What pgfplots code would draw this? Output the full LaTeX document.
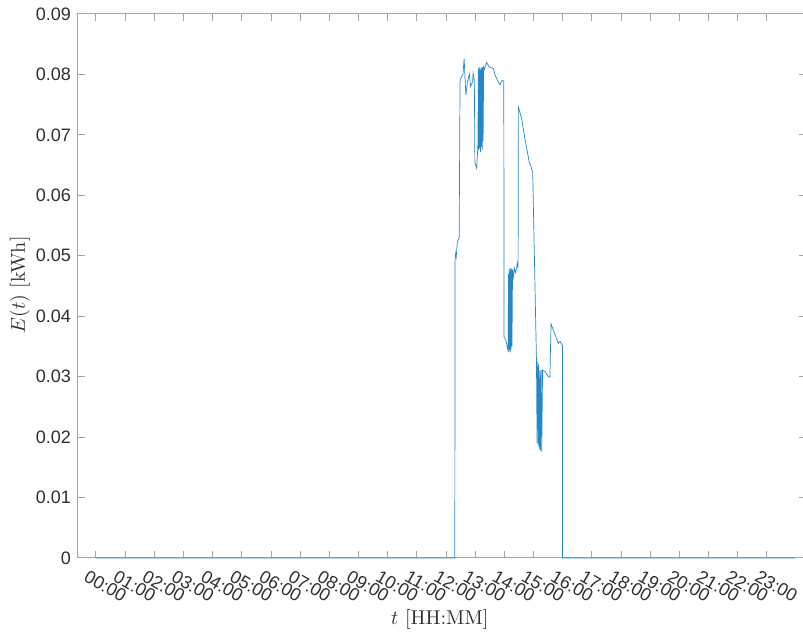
\documentclass[border=0pt]{standalone}
\usepackage{pgfplots}
\pgfplotsset{compat=1.18}
\usepackage{fontspec}
\newfontfamily\helv{Liberation Sans}
\definecolor{mblue}{rgb}{0,0.447,0.741}
\definecolor{axgray}{rgb}{0.64,0.64,0.64}
\definecolor{txtgray}{rgb}{0.18,0.18,0.18}
\begin{document}
\begin{tikzpicture}
\begin{axis}[
  scale only axis,
  width=364pt, height=272pt,
  xmin=-0.617, xmax=24.34,
  ymin=0, ymax=0.09,
  xtick={0,1,...,23},
  xticklabels={00:00,01:00,02:00,03:00,04:00,05:00,06:00,07:00,08:00,09:00,10:00,11:00,12:00,13:00,14:00,15:00,16:00,17:00,18:00,19:00,20:00,21:00,22:00,23:00},
  ytick={0,0.01,0.02,0.03,0.04,0.05,0.06,0.07,0.08,0.09},
  yticklabels={0,0.01,0.02,0.03,0.04,0.05,0.06,0.07,0.08,0.09},
  scaled y ticks=false,
  tick align=inside,
  major tick length=3.5pt,
  axis line style={axgray, line width=0.5pt},
  tick style={axgray, line width=0.5pt},
  tick label style={font=\helv\fontsize{9}{10.8}\selectfont, text=txtgray},
  xticklabel style={xshift=-3.5pt, yshift=-5.5pt, rotate=-30, anchor=north west, inner sep=0pt},
  xlabel={$t$ [HH:MM]},
  ylabel={$E(t)$ [kWh]},
  label style={font=\fontsize{10}{12}\selectfont, text=txtgray},
  xlabel style={at={(axis description cs:0.497,-0.114)}, anchor=center},
  ylabel style={at={(axis description cs:-0.0797,0.502)}, anchor=center},
  clip=false,
]
\addplot[mblue!85, line width=0.35pt] coordinates {
(0,0) (12.30,0) (12.31,0.0493) (12.33,0.0504) (12.35,0.0498) (12.37,0.0512) (12.39,0.0523) (12.42,0.0526) (12.45,0.0530)
(12.48,0.0788) (12.52,0.0795) (12.58,0.0800) (12.62,0.0826) (12.68,0.0766) (12.73,0.0786) (12.80,0.0801) (12.84,0.0780)
(12.91,0.0788) (12.93,0.0802) (12.97,0.0790) (12.99,0.0654) (13.02,0.0650) (13.05,0.0645) (13.09,0.0680)
(13.11,0.0810) (13.12,0.0675) (13.14,0.0812) (13.15,0.0678) (13.17,0.0808) (13.18,0.0672) (13.20,0.0812) (13.21,0.0680)
(13.23,0.0810) (13.24,0.0675) (13.26,0.0812) (13.27,0.0690) (13.29,0.0812) (13.31,0.0808) (13.34,0.0812)
(13.39,0.0820) (13.48,0.0812) (13.62,0.0810) (13.68,0.0799) (13.79,0.0788) (13.85,0.0783) (13.91,0.0790) (13.98,0.0789)
(13.99,0.0366) (14.03,0.0362) (14.08,0.0355) (14.13,0.0341) (14.14,0.0470) (14.15,0.0345) (14.17,0.0479) (14.18,0.0342)
(14.19,0.0475) (14.20,0.0340) (14.22,0.0480) (14.23,0.0345) (14.25,0.0478) (14.26,0.0350) (14.28,0.0477)
(14.31,0.0465) (14.34,0.0480) (14.38,0.0472) (14.42,0.0478) (14.44,0.0488) (14.47,0.0480)
(14.48,0.0746) (14.59,0.0727) (14.70,0.0695) (14.86,0.0653) (14.90,0.0650) (14.94,0.0642) (14.97,0.0640)
(15.10,0.0327) (15.12,0.0190) (15.14,0.0325) (15.16,0.0185) (15.18,0.0320) (15.20,0.0180) (15.22,0.0310) (15.24,0.0178)
(15.26,0.0312) (15.28,0.0176) (15.31,0.0311) (15.40,0.0308) (15.51,0.0300) (15.56,0.0299)
(15.60,0.0387) (15.68,0.0377) (15.85,0.0355) (15.91,0.0358) (15.96,0.0354) (15.99,0.0352) (15.995,0) (23.96,0)
};
\coordinate (ll) at (rel axis cs:0,0);
\coordinate (ur) at (rel axis cs:1,1);
\end{axis}
\pgfresetboundingbox
\path[use as bounding box] ([shift={(-39pt,-37.5pt)}]ll) rectangle ([shift={(-1.5pt,7pt)}]ur);
\end{tikzpicture}
\end{document}
